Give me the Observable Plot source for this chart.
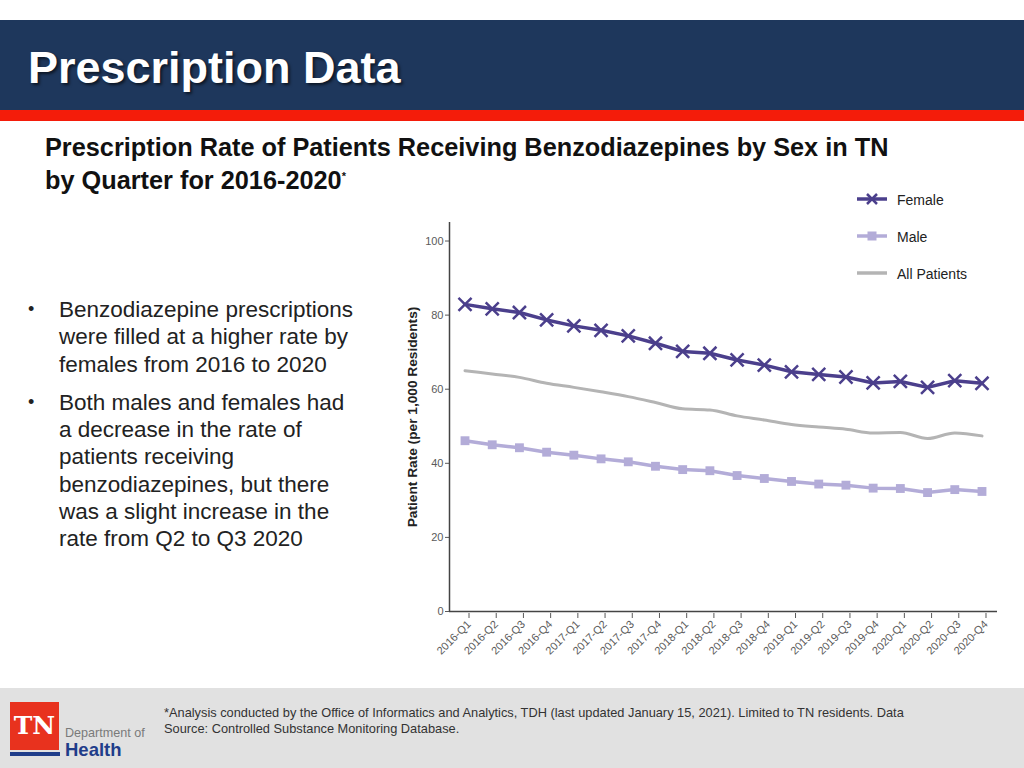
<!DOCTYPE html>
<html><head><meta charset="utf-8">
<script src="https://cdn.jsdelivr.net/npm/d3@7"></script>
<script src="https://cdn.jsdelivr.net/npm/@observablehq/plot@0.6"></script>
<style>
  html,body{margin:0;padding:0;background:#fff;}
  #page{position:relative;width:1024px;height:768px;overflow:hidden;font-family:"Liberation Sans",Arial,sans-serif;background:#fff;}
  #band{position:absolute;left:0;top:20px;width:1024px;height:90px;background:#1e375c;}
  #redline{position:absolute;left:0;top:110px;width:1024px;height:11px;background:#f41c0a;}
  #title{position:absolute;left:28px;top:41px;color:#fff;font-weight:bold;font-size:45px;line-height:54px;text-shadow:2px 2px 3px rgba(0,0,0,0.6);white-space:nowrap;}
  #subtitle{position:absolute;left:45px;top:131px;font-weight:bold;font-size:25.3px;line-height:33px;color:#111;white-space:nowrap;}
  #subtitle sup{font-size:11px;vertical-align:top;position:relative;top:-4px;}
  #bullets{position:absolute;left:28px;top:296px;width:380px;font-size:22.5px;line-height:27.3px;color:#222;white-space:nowrap;}
  .b{position:relative;padding-left:31px;margin-bottom:11px;}
  .b:before{content:"•";position:absolute;left:0;top:0;font-size:18px;}
  #chart{position:absolute;left:380px;top:200px;}
  #legend{position:absolute;left:855px;top:188px;font-size:14px;color:#222;}
  .lg{position:relative;height:37px;width:150px;}
  .lg svg{position:absolute;left:0;top:2px;}
  .lg span{position:absolute;left:42px;top:4px;white-space:nowrap;}
  #footer{position:absolute;left:0;top:688px;width:1024px;height:80px;background:#e1e1e1;}
  #note{position:absolute;left:164px;top:705px;font-size:12.8px;line-height:16px;color:#333;width:752px;}
  #logo{position:absolute;left:10px;top:702px;width:49px;height:48px;background:#e8321e;color:#fff;font-family:"DejaVu Serif","Liberation Serif",serif;font-weight:bold;font-size:25px;text-align:center;line-height:48px;}
  #logoline{position:absolute;left:10px;top:752px;width:50px;height:4px;background:#1f3d8a;}
  #dept{position:absolute;left:65px;top:726px;font-size:12.6px;color:#7a7a7a;}
  #health{position:absolute;left:65px;top:739px;font-size:18.5px;font-weight:bold;color:#1f3d8a;}
  #chart svg text{font-family:"Liberation Sans",Arial,sans-serif;}
  #chart g[aria-label="y-axis label"] text{font-weight:bold;font-size:13.7px;fill:#222;}
</style>
</head><body>
<div id="page">
  <div id="band"></div>
  <div id="redline"></div>
  <div id="title">Prescription Data</div>
  <div id="subtitle">Prescription Rate of Patients Receiving Benzodiazepines by Sex in TN<br>by Quarter for 2016-2020<sup>*</sup></div>
  <div id="bullets">
    <div class="b">Benzodiazepine prescriptions<br>were filled at a higher rate by<br>females from 2016 to 2020</div>
    <div class="b">Both males and females had<br>a decrease in the rate of<br>patients receiving<br>benzodiazepines, but there<br>was a slight increase in the<br>rate from Q2 to Q3 2020</div>
  </div>
  <div id="chart"></div>
  <div id="legend"></div>
  <div id="footer"></div>
  <div id="note">*Analysis conducted by the Office of Informatics and Analytics, TDH (last updated January 15, 2021). Limited to TN residents. Data Source: Controlled Substance Monitoring Database.</div>
  <div id="logo">TN</div>
  <div id="logoline"></div>
  <div id="dept">Department of</div>
  <div id="health">Health</div>
</div>
<script>
const quarters = ["2016-Q1","2016-Q2","2016-Q3","2016-Q4","2017-Q1","2017-Q2","2017-Q3","2017-Q4",
  "2018-Q1","2018-Q2","2018-Q3","2018-Q4","2019-Q1","2019-Q2","2019-Q3","2019-Q4",
  "2020-Q1","2020-Q2","2020-Q3","2020-Q4"];
const female = [82.9, 81.7, 80.7, 78.7, 77.1, 75.9, 74.4, 72.4, 70.2, 69.7, 67.9, 66.5, 64.7, 64.0, 63.3, 61.7, 62.1, 60.5, 62.3, 61.6];
const allPatients = [65.0, 64.1, 63.2, 61.6, 60.5, 59.3, 58.0, 56.4, 54.7, 54.4, 52.8, 51.7, 50.5, 49.8, 49.2, 48.2, 48.3, 46.7, 48.2, 47.4];
const male = [46.1, 45.0, 44.2, 43.0, 42.2, 41.2, 40.4, 39.2, 38.3, 38.0, 36.7, 35.9, 35.1, 34.4, 34.1, 33.3, 33.2, 32.1, 32.9, 32.4];
const seriesNames = ["Female", "Male", "All Patients"];
const seriesColors = ["#4b3f8c", "#b3acd8", "#b4b4b4"];
const yTicks = [0, 20, 40, 60, 80, 100];

const idx = d3.range(quarters.length);
const toRows = (vals) => idx.map(i => ({i, v: vals[i]}));
const fRows = toRows(female), mRows = toRows(male), aRows = toRows(allPatients);
const xDomain = [-0.57, quarters.length - 1 + 0.57];

const chart = Plot.plot({
  width: 630, height: 470,
  marginLeft: 69, marginTop: 22, marginBottom: 59, marginRight: 13,
  style: {fontFamily: "Liberation Sans, Arial, sans-serif", background: "transparent"},
  x: {type: "linear", domain: xDomain, axis: null},
  y: {domain: [0, 105], axis: null},
  marks: [
    Plot.axisY({ticks: yTicks, tickSize: 4, tickPadding: 2, fontSize: 11, color: "#5a5a5a",
      label: "Patient Rate (per 1,000 Residents)", labelAnchor: "center", labelArrow: "none", labelOffset: 42}),
    Plot.axisX({ticks: idx, tickFormat: i => quarters[i], tickRotate: -45, tickSize: 5, tickPadding: 4,
      dx: 4, dy: 2, fontSize: 11, color: "#5a5a5a", label: null}),
    Plot.ruleX([xDomain[0]], {stroke: "#444", strokeWidth: 1.5}),
    Plot.ruleY([0], {stroke: "#444", strokeWidth: 1.5}),
    Plot.line(aRows, {x: "i", y: "v", stroke: seriesColors[2], strokeWidth: 3, curve: "monotone-x"}),
    Plot.line(mRows, {x: "i", y: "v", stroke: seriesColors[1], strokeWidth: 3.5}),
    Plot.dot(mRows, {x: "i", y: "v", symbol: "square", r: 5, fill: seriesColors[1]}),
    Plot.line(fRows, {x: "i", y: "v", stroke: seriesColors[0], strokeWidth: 3.5}),
    Plot.dot(fRows, {x: "i", y: "v", symbol: "times", r: 6, stroke: seriesColors[0], strokeWidth: 2.5})
  ]
});
document.getElementById("chart").appendChild(chart);

// legend
const legend = document.getElementById("legend");
seriesNames.forEach((name, k) => {
  const row = document.createElement("div");
  row.className = "lg";
  let marker = "";
  if (k === 0) marker = `<path d="M12,4 L22,14 M22,4 L12,14" stroke="${seriesColors[0]}" stroke-width="2.5"/>`;
  if (k === 1) marker = `<rect x="12.5" y="4.5" width="9" height="9" fill="${seriesColors[1]}"/>`;
  row.innerHTML = `<svg width="34" height="18"><line x1="2" x2="32" y1="9" y2="9" stroke="${seriesColors[k]}" stroke-width="3.5"/>${marker}</svg><span>${name}</span>`;
  legend.appendChild(row);
});
</script>
</body></html>
